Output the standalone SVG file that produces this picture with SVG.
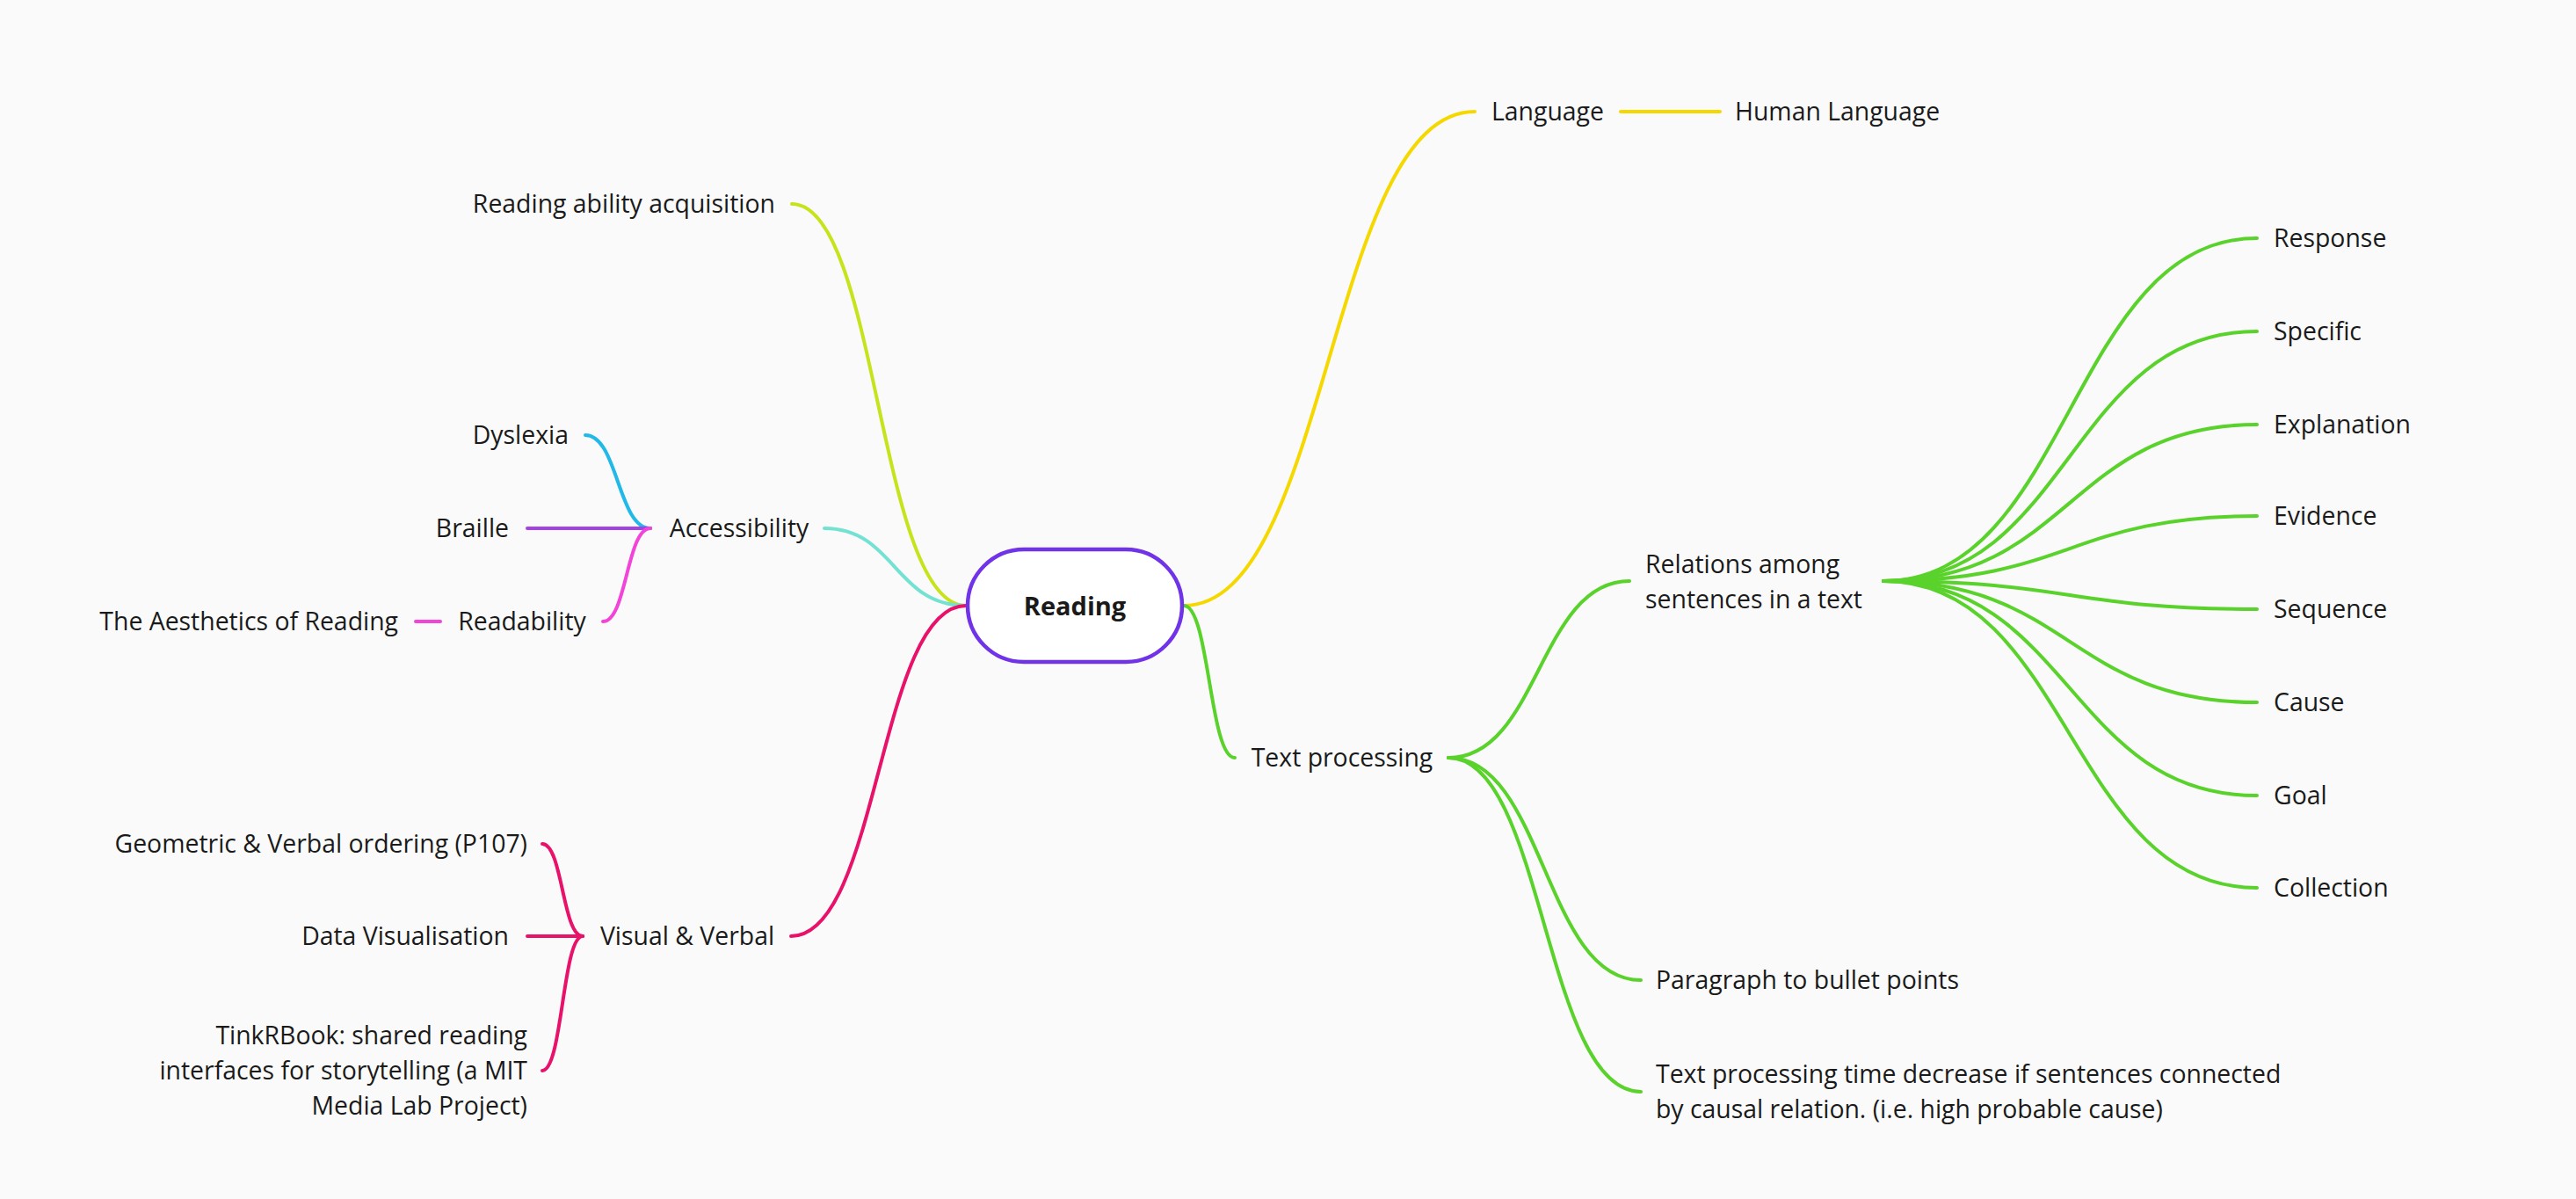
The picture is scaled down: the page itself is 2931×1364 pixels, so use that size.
<svg xmlns="http://www.w3.org/2000/svg" width="2931" height="1364" viewBox="0 0 2931 1364">
<style>
.t{font-family:"Open Sans","Noto Sans","Liberation Sans",sans-serif;font-size:28.4px;fill:#1a1a1a}
.e{text-anchor:end}
.m{text-anchor:middle}
.c{fill:none;stroke-width:4;stroke-linecap:round}
</style>
<rect x="0" y="0" width="2931" height="1364" fill="#fafafa"/>
<g id="connectors">
<path class="c" stroke="#c6e31c" d="M901,232 C999,232 999,689 1099,689"/>
<path class="c" stroke="#74e2d2" d="M938,601 C1018,601 1018,689 1099,689"/>
<path class="c" stroke="#e8126b" d="M900,1065 C1000,1065 1000,689 1099,689"/>
<path class="c" stroke="#22b9e8" d="M666,495 C703,495 703,601 740,601"/>
<path class="c" stroke="#a542e6" d="M600,601 L740,601"/>
<path class="c" stroke="#f244d9" d="M686,707 C713,707 713,601 740,601"/>
<path class="c" stroke="#f244d9" d="M473,707 L501,707"/>
<path class="c" stroke="#e8126b" d="M617,960 C640,960 640,1065 663,1065"/>
<path class="c" stroke="#e8126b" d="M600,1065 L663,1065"/>
<path class="c" stroke="#e8126b" d="M617,1218 C640,1218 640,1065 663,1065"/>
<path class="c" stroke="#f5d800" d="M1347,689 C1512,689 1512,127 1678,127"/>
<path class="c" stroke="#f5d800" d="M1844,127 L1957,127"/>
<path class="c" stroke="#5ad22c" d="M1347,689 C1376,689 1376,862 1405,862"/>
<path class="c" stroke="#5ad22c" d="M1648,862 C1751,862 1751,661 1854,661"/>
<path class="c" stroke="#5ad22c" d="M1648,862 C1757,862 1757,1115 1867,1115"/>
<path class="c" stroke="#5ad22c" d="M1648,862 C1757,862 1757,1242 1867,1242"/>
<path class="c" stroke="#5ad22c" d="M2143,661 C2355,661 2355,271 2568,271"/>
<path class="c" stroke="#5ad22c" d="M2143,661 C2355,661 2355,377 2568,377"/>
<path class="c" stroke="#5ad22c" d="M2143,661 C2355,661 2355,483 2568,483"/>
<path class="c" stroke="#5ad22c" d="M2143,661 C2355,661 2355,587 2568,587"/>
<path class="c" stroke="#5ad22c" d="M2143,661 C2355,661 2355,693 2568,693"/>
<path class="c" stroke="#5ad22c" d="M2143,661 C2355,661 2355,799 2568,799"/>
<path class="c" stroke="#5ad22c" d="M2143,661 C2355,661 2355,905 2568,905"/>
<path class="c" stroke="#5ad22c" d="M2143,661 C2355,661 2355,1010 2568,1010"/>
</g>
<g id="node-reading">
<rect x="1101" y="625" width="244" height="128" rx="64" ry="64" fill="#ffffff" stroke="#7033e8" stroke-width="4.5"/>
<text class="t m" x="1223" y="700" style="font-weight:700;font-size:29px">Reading</text>
</g>
<g id="node-acquisition"><text class="t e" x="882" y="242">Reading ability acquisition</text></g>
<g id="node-accessibility"><text class="t m" x="841" y="611">Accessibility</text></g>
<g id="node-dyslexia"><text class="t e" x="647" y="505">Dyslexia</text></g>
<g id="node-braille"><text class="t e" x="579" y="611">Braille</text></g>
<g id="node-readability"><text class="t m" x="594" y="717">Readability</text></g>
<g id="node-aesthetics"><text class="t e" x="453" y="717">The Aesthetics of Reading</text></g>
<g id="node-visual"><text class="t m" x="782" y="1075">Visual &amp; Verbal</text></g>
<g id="node-geometric"><text class="t e" x="600" y="970">Geometric &amp; Verbal ordering (P107)</text></g>
<g id="node-dataviz"><text class="t e" x="579" y="1075">Data Visualisation</text></g>
<g id="node-tinkrbook"><text class="t e" x="600" y="1188"><tspan x="600">TinkRBook: shared reading</tspan><tspan x="600" dy="40">interfaces for storytelling (a MIT</tspan><tspan x="600" dy="40">Media Lab Project)</tspan></text></g>
<g id="node-language"><text class="t m" x="1761" y="137">Language</text></g>
<g id="node-human-language"><text class="t" x="1974" y="137">Human Language</text></g>
<g id="node-text-processing"><text class="t m" x="1527" y="872">Text processing</text></g>
<g id="node-relations"><text class="t" x="1872" y="652"><tspan x="1872">Relations among</tspan><tspan x="1872" dy="40">sentences in a text</tspan></text></g>
<g id="node-response"><text class="t" x="2587" y="281">Response</text></g>
<g id="node-specific"><text class="t" x="2587" y="387">Specific</text></g>
<g id="node-explanation"><text class="t" x="2587" y="493">Explanation</text></g>
<g id="node-evidence"><text class="t" x="2587" y="597">Evidence</text></g>
<g id="node-sequence"><text class="t" x="2587" y="703">Sequence</text></g>
<g id="node-cause"><text class="t" x="2587" y="809">Cause</text></g>
<g id="node-goal"><text class="t" x="2587" y="915">Goal</text></g>
<g id="node-collection"><text class="t" x="2587" y="1020">Collection</text></g>
<g id="node-paragraph"><text class="t" x="1884" y="1125">Paragraph to bullet points</text></g>
<g id="node-causal"><text class="t" x="1884" y="1232"><tspan x="1884">Text processing time decrease if sentences connected</tspan><tspan x="1884" dy="40">by causal relation. (i.e. high probable cause)</tspan></text></g>
</svg>
